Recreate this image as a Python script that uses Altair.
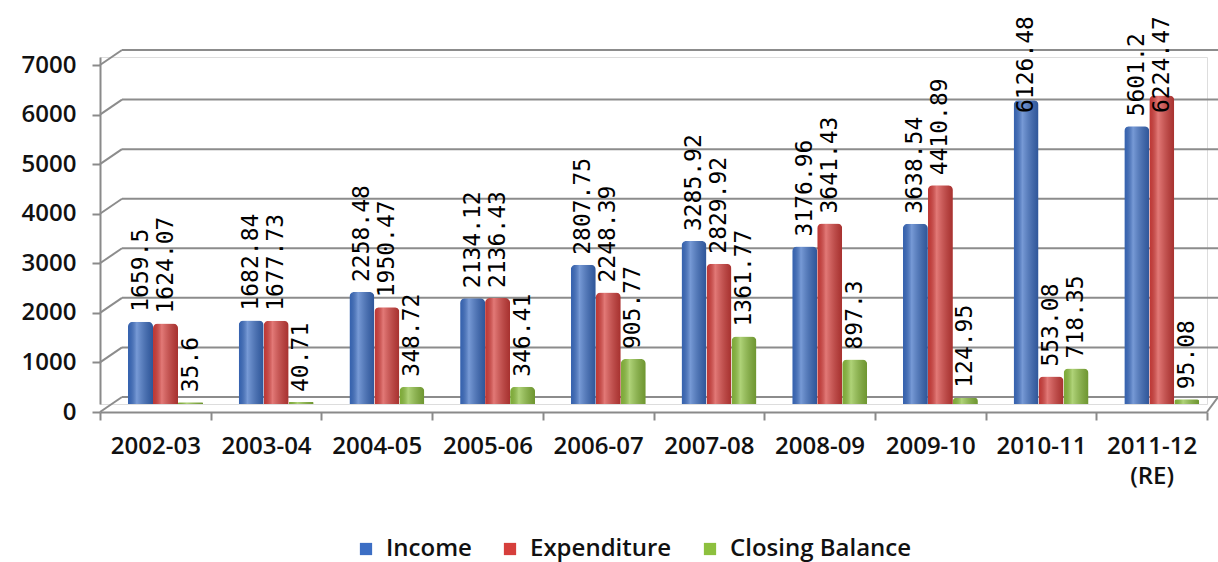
import altair as alt
import pandas as pd

categories = ["2002-03", "2003-04", "2004-05", "2005-06", "2006-07",
              "2007-08", "2008-09", "2009-10", "2010-11", "2011-12 (RE)"]
series = ["Income", "Expenditure", "Closing Balance"]
income = [1659.5, 1682.84, 2258.48, 2134.12, 2807.75, 3285.92, 3176.96, 3638.54, 6126.48, 5601.2]
expenditure = [1624.07, 1677.73, 1950.47, 2136.43, 2248.39, 2829.92, 3641.43, 4410.89, 553.08, 6224.47]
closing = [35.6, 40.71, 348.72, 346.41, 905.77, 1361.77, 897.3, 124.95, 718.35, 95.08]
income_lbl = ["1659.5", "1682.84", "2258.48", "2134.12", "2807.75", "3285.92", "3176.96", "3638.54", "6126.48", "5601.2"]
expenditure_lbl = ["1624.07", "1677.73", "1950.47", "2136.43", "2248.39", "2829.92", "3641.43", "4410.89", "553.08", "6224.47"]
closing_lbl = ["35.6", "40.71", "348.72", "346.41", "905.77", "1361.77", "897.3", "124.95", "718.35", "95.08"]
y_ticks = [0, 1000, 2000, 3000, 4000, 5000, 6000, 7000]
colors = ["#3C6EC4", "#D63F3C", "#8DC03E"]

rows = []
for name, vals, lbls in [(series[0], income, income_lbl),
                         (series[1], expenditure, expenditure_lbl),
                         (series[2], closing, closing_lbl)]:
    for c, v, l in zip(categories, vals, lbls):
        rows.append({"cat": c, "series": name, "value": v, "label": l})
df = pd.DataFrame(rows)
grid_df = pd.DataFrame({"v": y_ticks})

W, H = 1107, 347
FONT = "Open Sans"

yscale = alt.Scale(domain=[0, 7000], nice=False)

x_enc = alt.X("cat:N", sort=categories,
              scale=alt.Scale(paddingInner=0, paddingOuter=0),
              axis=alt.Axis(title=None, labelAngle=0, tickBand="extent",
                            labelExpr="split(datum.label, ' ')",
                            labelFont=FONT, labelFontSize=24, labelFontWeight=600,
                            labelColor="#111111", labelPadding=14, labelLineHeight=30,
                            domainColor="#8a8a8a", domainWidth=2,
                            tickColor="#8a8a8a", tickWidth=2, tickSize=8, offset=8))
xo_enc = alt.XOffset("series:N", sort=series,
                     scale=alt.Scale(range=[28, 103], paddingInner=0, paddingOuter=0))

grid = alt.Chart(grid_df).mark_rule(color="#8c8c8c", strokeWidth=2, yOffset=-7).encode(
    y=alt.Y("v:Q", scale=yscale,
            axis=alt.Axis(title=None, values=y_ticks, grid=False, tickOffset=8, format="d",
                          labelFont=FONT, labelFontSize=24, labelFontWeight=600,
                          labelColor="#111111", labelPadding=16,
                          domainColor="#8a8a8a", domainWidth=2,
                          tickColor="#8a8a8a", tickWidth=2, tickSize=8)),
    x=alt.value(22), x2=alt.value(W + 11),
)

diag = alt.Chart(grid_df).mark_rule(color="#8c8c8c", strokeWidth=2, yOffset=8, y2Offset=-7).encode(
    y=alt.Y("v:Q", scale=yscale), y2=alt.Y2("v"),
    x=alt.value(0), x2=alt.value(22),
)

corner = alt.Chart(grid_df).transform_filter("datum.v == 0").mark_rule(
    color="#8c8c8c", strokeWidth=2, yOffset=8, y2Offset=-7).encode(
    y=alt.Y("v:Q", scale=yscale), y2=alt.Y2("v"),
    x=alt.value(W), x2=alt.value(W + 11),
)

bars = alt.Chart(df).mark_bar(cornerRadiusTopLeft=5, cornerRadiusTopRight=5).encode(
    x=x_enc, xOffset=xo_enc,
    y=alt.Y("value:Q", scale=yscale),
    color=alt.Color("series:N", sort=series,
                    scale=alt.Scale(domain=series, range=colors),
                    legend=alt.Legend(title=None, orient="none", direction="horizontal",
                                      legendX=254, legendY=480,
                                      symbolType="square", symbolSize=150,
                                      symbolStrokeWidth=0, symbolOpacity=1,
                                      labelFont=FONT, labelFontSize=24, labelFontWeight=600,
                                      labelColor="#111111", labelOffset=8, labelLimit=0,
                                      columnPadding=26)),
)

shine = alt.Chart(df).mark_bar(
    cornerRadiusTopLeft=5, cornerRadiusTopRight=5,
    color=alt.Gradient(gradient="linear", x1=0, x2=1, y1=0, y2=0,
                       stops=[alt.GradientStop(offset=0, color="rgba(0,0,0,0.10)"),
                              alt.GradientStop(offset=0.35, color="rgba(255,255,255,0.30)"),
                              alt.GradientStop(offset=1, color="rgba(0,0,0,0.22)")])
).encode(
    x=alt.X("cat:N", sort=categories), xOffset=xo_enc,
    y=alt.Y("value:Q", scale=yscale),
)

labels = alt.Chart(df).transform_calculate(
    anchor="min(datum.value, 5669)"
).mark_text(angle=270, align="left", baseline="middle", dx=10,
            font="DejaVu Sans Mono", fontSize=23, color="#000000").encode(
    x=alt.X("cat:N", sort=categories), xOffset=xo_enc,
    y=alt.Y("anchor:Q", scale=yscale),
    text="label:N",
)

chart = alt.layer(grid, diag, corner, bars, shine, labels).properties(
    width=W, height=H,
    autosize=alt.AutoSizeParams(type="none"),
    padding={"left": 100, "top": 57, "right": 11, "bottom": 158},
).configure_view(stroke=None).configure(background="white")

chart.save("out.html", embed_options={"renderer": "svg", "actions": False})
